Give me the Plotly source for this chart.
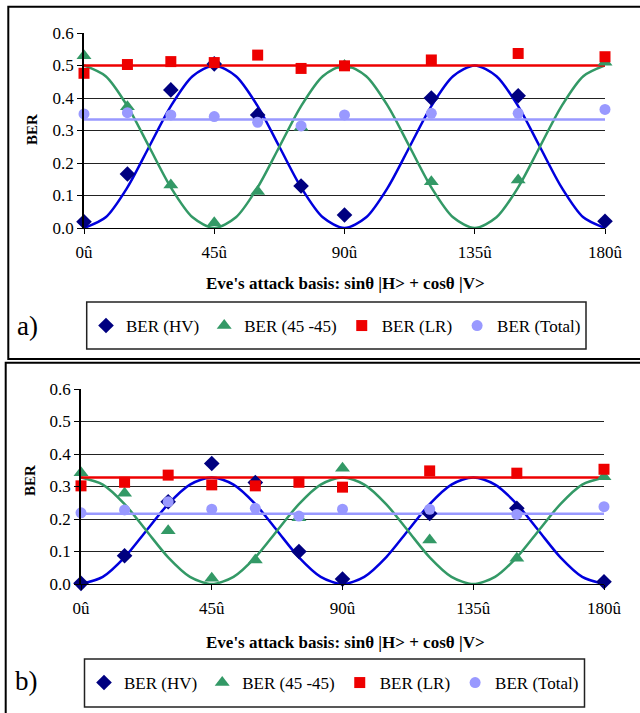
import plotly.graph_objects as go

W, H = 640, 713

# ---------------- data ----------------
angles = [0, 15, 30, 45, 60, 75, 90, 120, 150, 180]
tick_vals = [0, 45, 90, 135, 180]
tick_text = ["0û", "45û", "90û", "135û", "180û"]
y_ticks = [0.0, 0.1, 0.2, 0.3, 0.4, 0.5, 0.6]

# panel a measured points
a_hv = [0.019, 0.166, 0.425, 0.505, 0.348, 0.129, 0.040, 0.400, 0.407, 0.021]
a_45 = [0.530, 0.373, 0.132, 0.016, 0.112, 0.310, 0.500, 0.142, 0.148, 0.510]
a_lr = [0.476, 0.503, 0.512, 0.509, 0.532, 0.491, 0.499, 0.517, 0.537, 0.527]
a_tot = [0.351, 0.355, 0.348, 0.343, 0.325, 0.314, 0.348, 0.353, 0.353, 0.365]

# panel b measured points
b_hv = [0.002, 0.087, 0.253, 0.371, 0.312, 0.100, 0.015, 0.217, 0.233, 0.007]
b_45 = [0.342, 0.279, 0.164, 0.018, 0.074, 0.204, 0.356, 0.135, 0.079, 0.330]
b_lr = [0.302, 0.313, 0.335, 0.305, 0.302, 0.313, 0.298, 0.348, 0.341, 0.353]
b_tot = [0.219, 0.228, 0.253, 0.230, 0.233, 0.209, 0.230, 0.230, 0.214, 0.238]

# theory curves
fit_angles = [0, 7.5, 15, 22.5, 30, 37.5, 45, 52.5, 60, 67.5, 75, 82.5, 90,
              97.5, 105, 112.5, 120, 127.5, 135, 142.5, 150, 157.5, 165, 172.5, 180]
a_hv_fit = [0, 0.033, 0.125, 0.25, 0.375, 0.467, 0.5, 0.467, 0.375, 0.25, 0.125, 0.033, 0,
            0.033, 0.125, 0.25, 0.375, 0.467, 0.5, 0.467, 0.375, 0.25, 0.125, 0.033, 0]
a_45_fit = [0.5, 0.467, 0.375, 0.25, 0.125, 0.033, 0, 0.033, 0.125, 0.25, 0.375, 0.467, 0.5,
            0.467, 0.375, 0.25, 0.125, 0.033, 0, 0.033, 0.125, 0.25, 0.375, 0.467, 0.5]
a_lr_fit = [0.5, 0.5]
a_tot_fit = [0.334, 0.334]
b_hv_fit = [0, 0.022, 0.082, 0.164, 0.246, 0.306, 0.328, 0.306, 0.246, 0.164, 0.082, 0.022, 0,
            0.022, 0.082, 0.164, 0.246, 0.306, 0.328, 0.306, 0.246, 0.164, 0.082, 0.022, 0]
b_45_fit = [0.328, 0.306, 0.246, 0.164, 0.082, 0.022, 0, 0.022, 0.082, 0.164, 0.246, 0.306, 0.328,
            0.306, 0.246, 0.164, 0.082, 0.022, 0, 0.022, 0.082, 0.164, 0.246, 0.306, 0.328]
b_lr_fit = [0.328, 0.328]
b_tot_fit = [0.216, 0.216]
flat_angles = [0, 180]

series_names = ["BER (HV)", "BER (45 -45)", "BER (LR)", "BER (Total)"]
marker_colors = ["#000080", "#339966", "#EE0000", "#9999FF"]
line_colors = ["#0000DD", "#339966", "#EE0000", "#9999FF"]
symbols = ["diamond", "triangle-up", "square", "circle"]
msizes = [12, 13, 11, 11]

FONT = "Liberation Serif"

def px(x):
    return x / W

def py(y):
    return 1 - y / H

fig = go.Figure()

panels = [
    dict(xa="x", ya="y", legend="legend",
         pts=[a_hv, a_45, a_lr, a_tot],
         fits=[(fit_angles, a_hv_fit), (fit_angles, a_45_fit), (flat_angles, a_lr_fit), (flat_angles, a_tot_fit)]),
    dict(xa="x2", ya="y2", legend="legend2",
         pts=[b_hv, b_45, b_lr, b_tot],
         fits=[(fit_angles, b_hv_fit), (fit_angles, b_45_fit), (flat_angles, b_lr_fit), (flat_angles, b_tot_fit)]),
]

for p in panels:
    for i, (fx, fy) in enumerate(p["fits"]):
        fig.add_trace(go.Scatter(x=fx, y=fy, mode="lines", xaxis=p["xa"], yaxis=p["ya"],
                                 line=dict(color=line_colors[i], width=2.5, shape="spline", smoothing=0.8),
                                 showlegend=False, hoverinfo="skip"))
    for i, vals in enumerate(p["pts"]):
        fig.add_trace(go.Scatter(x=angles, y=vals, mode="markers", name=series_names[i],
                                 xaxis=p["xa"], yaxis=p["ya"], legend=p["legend"],
                                 marker=dict(symbol=symbols[i], color=marker_colors[i], size=msizes[i],
                                             line=dict(width=0)),
                                 cliponaxis=False))

xcommon = dict(range=[0, 180], tickvals=tick_vals, ticktext=tick_text, showgrid=False,
               zeroline=False, showline=True, linecolor="black", linewidth=1,
               ticks="outside", ticklen=5, tickcolor="black", tickwidth=1,
               tickfont=dict(family=FONT, size=17, color="black"), ticklabelstandoff=4)
ycommon = dict(range=[0, 0.6], tickvals=y_ticks, tickformat=".1f", showgrid=True,
               gridcolor="#222222", gridwidth=1, zeroline=False, showline=True,
               linecolor="black", linewidth=1.5, ticks="outside", ticklen=5,
               tickcolor="black", tickwidth=1,
               tickfont=dict(family=FONT, size=17, color="black"))

legcommon = dict(orientation="h", xanchor="left", yanchor="middle", bgcolor="rgba(0,0,0,0)",
                 borderwidth=0, font=dict(family=FONT, size=17, color="black"),
                 itemwidth=30, tracegroupgap=0, itemclick=False)

fig.update_layout(
    width=W, height=H, margin=dict(l=0, r=0, t=0, b=0, autoexpand=False),
    paper_bgcolor="white", plot_bgcolor="white",
    xaxis=dict(domain=[px(84), px(605)], anchor="y", **xcommon),
    yaxis=dict(domain=[py(228), py(33)], anchor="x", **ycommon),
    xaxis2=dict(domain=[px(81), px(604)], anchor="y2", **xcommon),
    yaxis2=dict(domain=[py(584), py(389)], anchor="x2", **ycommon),
    legend=dict(x=px(86), y=py(326), **legcommon),
    legend2=dict(x=px(84), y=py(683), **legcommon),
)

shapes = [
    # panel borders
    dict(type="rect", xref="paper", yref="paper", x0=px(8.3), x1=1.02, y0=py(359), y1=py(6.7),
         line=dict(color="black", width=2), fillcolor="rgba(0,0,0,0)", layer="below"),
    dict(type="rect", xref="paper", yref="paper", x0=px(5.7), x1=1.02, y0=-0.02, y1=py(362.7),
         line=dict(color="black", width=2), fillcolor="rgba(0,0,0,0)", layer="below"),
    # legend boxes
    dict(type="rect", xref="paper", yref="paper", x0=px(86.7), x1=px(586), y0=py(349), y1=py(302),
         line=dict(color="#222222", width=1.5), fillcolor="rgba(0,0,0,0)"),
    dict(type="rect", xref="paper", yref="paper", x0=px(84.5), x1=px(584.5), y0=py(707), y1=py(659),
         line=dict(color="#222222", width=1.5), fillcolor="rgba(0,0,0,0)"),
]
fig.update_layout(shapes=shapes)

title_txt = "<b>Eve's attack basis: sinθ |H> + cosθ |V></b>"
ann = [
    dict(text=title_txt, x=px(345), y=py(283)),
    dict(text=title_txt, x=px(345), y=py(642)),
    dict(text="<b>BER</b>", x=px(32), y=py(130), textangle=-90, size=15),
    dict(text="<b>BER</b>", x=px(30), y=py(481), textangle=-90, size=15),
    dict(text="a)", x=px(27), y=py(326), size=27),
    dict(text="b)", x=px(26), y=py(681), size=27),
]
for a in ann:
    fig.add_annotation(text=a["text"], x=a["x"], y=a["y"], xref="paper", yref="paper",
                       xanchor="center", yanchor="middle", showarrow=False,
                       textangle=a.get("textangle", 0),
                       font=dict(family=FONT, size=a.get("size", 17), color="black"))

fig.write_html("out.html")
